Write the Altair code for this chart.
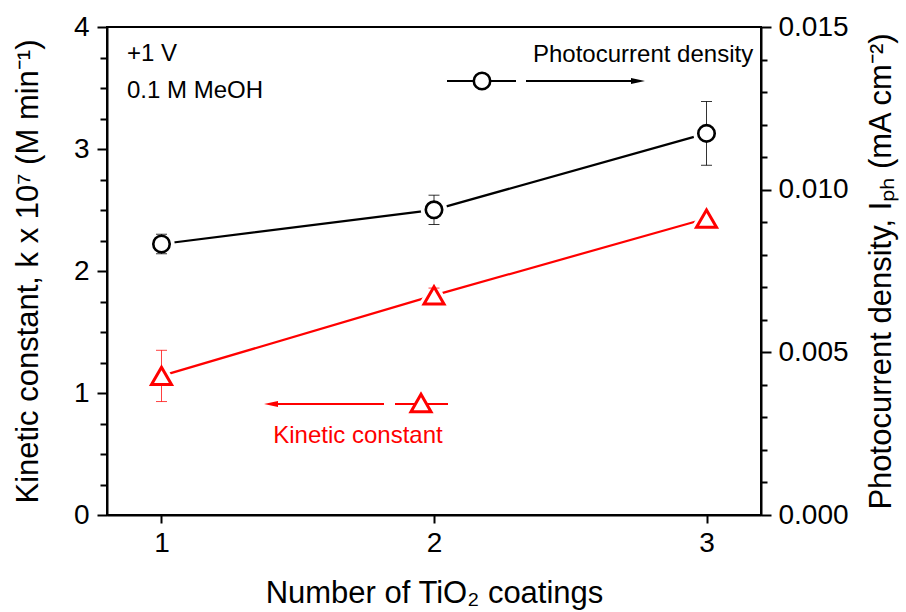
import altair as alt
import pandas as pd

# ---- data ----
coatings = [1, 2, 3]
kinetic = [1.14, 1.80, 2.43]          # k x 10^7 (M min^-1)
kinetic_err = [0.21, 0.06, 0.0]
photo = [0.00833, 0.00938, 0.01173]   # mA cm^-2
photo_err = [0.0003, 0.00045, 0.00098]

left_ticks = [i * 0.25 for i in range(17)]
right_ticks = [i * 0.001 for i in range(16)]

df = pd.DataFrame({
    "n": coatings,
    "k": kinetic,
    "k_lo": [v - e for v, e in zip(kinetic, kinetic_err)],
    "k_hi": [v + e for v, e in zip(kinetic, kinetic_err)],
    "k_err": kinetic_err,
    "p": photo,
    "p_lo": [v - e for v, e in zip(photo, photo_err)],
    "p_hi": [v + e for v, e in zip(photo, photo_err)],
})

FONT = "Liberation Sans"
RED = "#ff0000"

xscale = alt.Scale(domain=[0.8, 3.2], nice=False, zero=False)
xaxis = alt.Axis(values=[1, 2, 3], format="d", title="Number of TiO₂ coatings",
                 tickSize=8, labelPadding=6, titlePadding=21)

left_axis = alt.Axis(
    orient="left", values=left_ticks,
    labelExpr="datum.value % 1 == 0 ? format(datum.value, 'd') : ''",
    tickSize={"condition": {"test": "datum.value % 1 == 0", "value": 10}, "value": 7},
    labelPadding=8, titlePadding=29,
    title="Kinetic constant, k x 10⁷ (M min⁻¹)",
)
right_axis = alt.Axis(
    orient="right", values=right_ticks,
    labelExpr="round(datum.value * 1000) % 5 == 0 ? format(datum.value, '.3f') : ''",
    tickSize={"condition": {"test": "round(datum.value * 1000) % 5 == 0", "value": 10}, "value": 6},
    labelPadding=7, titlePadding=18, titleAngle=270, titleBaseline="top",
    title="Photocurrent density, Iₚₕ  (mA cm⁻²)",
)
lscale = alt.Scale(domain=[0, 4], nice=False)
rscale = alt.Scale(domain=[0, 0.015], nice=False)

base = alt.Chart(df)
X = alt.X("n:Q", scale=xscale, axis=xaxis)

# kinetic (left axis)
k_line = base.mark_line(color=RED, strokeWidth=2.2).encode(
    x=X, y=alt.Y("k:Q", scale=lscale, axis=left_axis))
k_halo = base.mark_point(shape="triangle-up", size=400, filled=True, fill="white",
                         stroke="white", strokeWidth=9, opacity=1).encode(
    x=X, y=alt.Y("k:Q", scale=lscale, axis=left_axis))
kerr = base.transform_filter("datum.k_err > 0")
k_stem = kerr.mark_rule(color=RED, strokeWidth=1, opacity=0.75).encode(
    x=X, y=alt.Y("k_lo:Q", scale=lscale, axis=left_axis), y2="k_hi:Q")
k_cap_lo = kerr.mark_tick(orient="horizontal", color=RED, size=11, thickness=1, opacity=0.75).encode(
    x=X, y=alt.Y("k_lo:Q", scale=lscale, axis=left_axis))
k_cap_hi = kerr.mark_tick(orient="horizontal", color=RED, size=11, thickness=1, opacity=0.75).encode(
    x=X, y=alt.Y("k_hi:Q", scale=lscale, axis=left_axis))
k_pts = base.mark_point(shape="triangle-up", size=400, filled=True, fill="white",
                        stroke=RED, strokeWidth=3, opacity=1).encode(
    x=X, y=alt.Y("k:Q", scale=lscale, axis=left_axis))
left = alt.layer(k_line, k_halo, k_stem, k_cap_lo, k_cap_hi, k_pts)

# photocurrent (right axis)
p_line = base.mark_line(color="black", strokeWidth=2.2).encode(
    x=X, y=alt.Y("p:Q", scale=rscale, axis=right_axis))
p_halo = base.mark_point(shape="circle", size=270, filled=True, fill="white",
                         stroke="white", strokeWidth=10, opacity=1).encode(
    x=X, y=alt.Y("p:Q", scale=rscale, axis=right_axis))
p_stem = base.mark_rule(color="black", strokeWidth=1, opacity=0.8).encode(
    x=X, y=alt.Y("p_lo:Q", scale=rscale, axis=right_axis), y2="p_hi:Q")
p_cap_lo = base.mark_tick(orient="horizontal", color="black", size=11, thickness=1, opacity=0.8).encode(
    x=X, y=alt.Y("p_lo:Q", scale=rscale, axis=right_axis))
p_cap_hi = base.mark_tick(orient="horizontal", color="black", size=11, thickness=1, opacity=0.8).encode(
    x=X, y=alt.Y("p_hi:Q", scale=rscale, axis=right_axis))
p_pts = base.mark_point(shape="circle", size=270, filled=True, fill="white",
                        stroke="black", strokeWidth=2.6, opacity=1).encode(
    x=X, y=alt.Y("p:Q", scale=rscale, axis=right_axis))
right = alt.layer(p_line, p_halo, p_stem, p_cap_lo, p_cap_hi, p_pts)

# annotations (legend-like decorations, pixel positions in the plot area)
one = alt.Chart(pd.DataFrame({"a": [0]}))
def txt(s, x, y, color="black", align="left", size=24):
    return one.mark_text(text=s, font=FONT, fontSize=size, color=color, align=align,
                         baseline="middle").encode(x=alt.value(x), y=alt.value(y))
def seg(x1, x2, y, color):
    return one.mark_rule(color=color, strokeWidth=2.2).encode(
        x=alt.value(x1), x2=alt.value(x2), y=alt.value(y))

arrow_r = "M-1,-0.42 L1,0 L-1,0.42 Z"
arrow_l = "M1,-0.42 L-1,0 L1,0.42 Z"

ann = alt.layer(
    txt("+1 V", 20, 27),
    txt("0.1 M MeOH", 20, 64),
    txt("Photocurrent density", 426, 28),
    txt("Kinetic constant", 251, 409, color=RED, align="center"),
    # black legend
    seg(340, 409, 54, "black"),
    one.mark_point(shape="circle", size=270, filled=True, fill="white", stroke="black",
                   strokeWidth=2.6, opacity=1).encode(x=alt.value(375), y=alt.value(54)),
    seg(419, 528, 54, "black"),
    one.mark_point(shape=arrow_r, size=196, filled=True, color="black", opacity=1).encode(
        x=alt.value(531), y=alt.value(54)),
    # red legend
    seg(288, 341, 377, RED),
    one.mark_point(shape="triangle-up", size=400, filled=True, fill="white", stroke=RED,
                   strokeWidth=3, opacity=1).encode(x=alt.value(314), y=alt.value(376)),
    seg(162, 277, 377, RED),
    one.mark_point(shape=arrow_l, size=196, filled=True, color=RED, opacity=1).encode(
        x=alt.value(164), y=alt.value(377)),
)

chart = alt.layer(left, right, ann).resolve_scale(y="independent").properties(
    width=654, height=488,
    autosize=alt.AutoSizeParams(type="none"),
    padding={"left": 107, "top": 27, "right": 145, "bottom": 97},
).configure_view(
    stroke="black", strokeWidth=2
).configure_axis(
    domainColor="black", domainWidth=2, tickColor="black", tickWidth=2,
    grid=False, labelFont=FONT, labelFontSize=28, labelColor="black",
    titleFont=FONT, titleFontSize=31, titleFontWeight="normal", titleColor="black",
)

chart.save("out.html", embed_options={"renderer": "svg", "actions": False})
